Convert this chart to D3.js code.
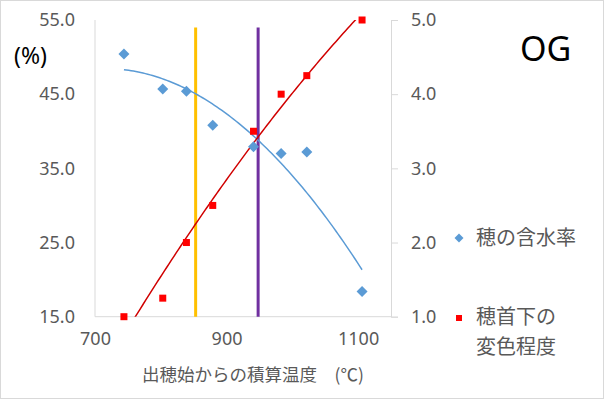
<!DOCTYPE html>
<html>
<head>
<meta charset="utf-8">
<script src="https://cdn.jsdelivr.net/npm/d3@7"></script>
<style>
  body { margin: 0; background: #fff; }
  text { font-family: "Noto Sans", "Noto Sans CJK JP", sans-serif; }
  .jp { font-family: "Noto Sans CJK JP", sans-serif; }
</style>
</head>
<body>
<div id="chart"></div>
<script>
const width = 604;
const height = 399;

// data
const temps = [744, 803, 839, 879, 941, 983, 1022, 1106];
const moisture = [50.4, 45.7, 45.4, 40.8, 37.9, 37.0, 37.2, 18.4];
const discolor = [1.0, 1.25, 2.0, 2.5, 3.5, 4.0, 4.25, 5.0];
const markerTemps = [853, 948];
const markerColors = ['#FFC000', '#7030A0'];
const leftTicks = [15, 25, 35, 45, 55];
const rightTicks = [1, 2, 3, 4, 5];
const xTicks = [700, 900, 1100];

const plot = { left: 95, right: 391, top: 20, bottom: 316.7 };

const svg = d3.select('#chart').append('svg')
  .attr('width', width)
  .attr('height', height);

svg.append('rect')
  .attr('x', 0.5).attr('y', 0.5)
  .attr('width', width - 1).attr('height', height - 1)
  .attr('fill', '#fff').attr('stroke', '#d9d9d9');

const x = d3.scaleLinear().domain([700, 1150]).range([plot.left, plot.right]);
const yL = d3.scaleLinear().domain([15, 55]).range([plot.bottom, plot.top]);
const yR = d3.scaleLinear().domain([1, 5]).range([plot.bottom, plot.top]);

svg.append('clipPath').attr('id', 'clip')
  .append('rect')
  .attr('x', plot.left).attr('y', plot.top)
  .attr('width', plot.right - plot.left).attr('height', plot.bottom - plot.top);

// axes lines
const axisColor = '#d9d9d9';
svg.append('line')
  .attr('x1', plot.left).attr('x2', plot.left)
  .attr('y1', plot.top).attr('y2', plot.bottom)
  .attr('stroke', axisColor);
svg.append('line')
  .attr('x1', plot.left).attr('x2', plot.right)
  .attr('y1', plot.bottom).attr('y2', plot.bottom)
  .attr('stroke', axisColor);

const rightAxis = d3.axisRight(yR).tickValues(rightTicks).tickSize(7).tickPadding(13)
  .tickFormat(d3.format('.1f'));
const gR = svg.append('g').attr('transform', `translate(${plot.right},0)`).call(rightAxis);
gR.select('.domain').attr('stroke', axisColor);
gR.selectAll('.tick line').attr('stroke', axisColor);
gR.selectAll('text').attr('fill', '#595959').style('font-size', '18px')
  .style('font-family', '"Noto Sans", sans-serif');

const leftAxis = d3.axisLeft(yL).tickValues(leftTicks).tickSize(0).tickPadding(20)
  .tickFormat(d3.format('.1f'));
const gL = svg.append('g').attr('transform', `translate(${plot.left},0)`).call(leftAxis);
gL.select('.domain').remove();
gL.selectAll('text').attr('fill', '#595959').style('font-size', '18px')
  .style('font-family', '"Noto Sans", sans-serif');

const bottomAxis = d3.axisBottom(x).tickValues(xTicks).tickSize(0).tickPadding(16)
  .tickFormat(d3.format('d'));
const gB = svg.append('g').attr('transform', `translate(0,${plot.bottom})`).call(bottomAxis);
gB.select('.domain').remove();
gB.selectAll('text').attr('fill', '#595959').style('font-size', '18px')
  .style('font-family', '"Noto Sans", sans-serif');

// vertical reference lines
svg.selectAll('.vline').data(markerTemps).enter().append('line')
  .attr('class', 'vline')
  .attr('x1', (d) => x(d)).attr('x2', (d) => x(d))
  .attr('y1', yL(54)).attr('y2', yL(15))
  .attr('stroke', (d, i) => markerColors[i])
  .attr('stroke-width', 3);

// quadratic least squares trend
const quadFit = (xs, ys) => {
  const n = xs.length;
  const mx = d3.mean(xs);
  const u = xs.map((v) => (v - mx) / 100);
  let s = [0, 0, 0, 0, 0], t = [0, 0, 0];
  for (let i = 0; i < n; i++) {
    for (let k = 0; k < 5; k++) s[k] += Math.pow(u[i], k);
    for (let k = 0; k < 3; k++) t[k] += ys[i] * Math.pow(u[i], k);
  }
  const A = [[s[0], s[1], s[2], t[0]], [s[1], s[2], s[3], t[1]], [s[2], s[3], s[4], t[2]]];
  for (let c = 0; c < 3; c++) {
    for (let r = c + 1; r < 3; r++) {
      const f = A[r][c] / A[c][c];
      for (let k = c; k < 4; k++) A[r][k] -= f * A[c][k];
    }
  }
  const b = [0, 0, 0];
  for (let r = 2; r >= 0; r--) {
    let v = A[r][3];
    for (let k = r + 1; k < 3; k++) v -= A[r][k] * b[k];
    b[r] = v / A[r][r];
  }
  return (xv) => {
    const uu = (xv - mx) / 100;
    return b[0] + b[1] * uu + b[2] * uu * uu;
  };
};

const samples = d3.range(0, 101).map((i) => d3.min(temps) + (d3.max(temps) - d3.min(temps)) * i / 100);

const blueFit = quadFit(temps, moisture);
const redFit = quadFit(temps, discolor);

const plotArea = svg.append('g').attr('clip-path', 'url(#clip)');

plotArea.append('path')
  .datum(samples)
  .attr('fill', 'none')
  .attr('stroke', '#5B9BD5')
  .attr('stroke-width', 1.5)
  .attr('d', d3.line().x((d) => x(d)).y((d) => yL(blueFit(d))));

plotArea.append('path')
  .datum(samples)
  .attr('fill', 'none')
  .attr('stroke', '#D00000')
  .attr('stroke-width', 1.5)
  .attr('d', d3.line().x((d) => x(d)).y((d) => yR(redFit(d))));

const diamond = (r) => `M0,${-r}L${r},0L0,${r}L${-r},0Z`;

svg.selectAll('.blue').data(temps).enter().append('path')
  .attr('class', 'blue')
  .attr('d', diamond(5.5))
  .attr('transform', (d, i) => `translate(${x(d)},${yL(moisture[i])})`)
  .attr('fill', '#5B9BD5');

svg.selectAll('.red').data(temps).enter().append('rect')
  .attr('class', 'red')
  .attr('x', (d) => x(d) - 3.5)
  .attr('y', (d, i) => yR(discolor[i]) - 3.5)
  .attr('width', 7).attr('height', 7)
  .attr('fill', '#FF0000');

// labels
svg.append('text')
  .attr('x', 14).attr('y', 64)
  .attr('font-size', 23)
  .style('font-size', '23px')
  .attr('fill', '#000')
  .text('(%)');

svg.append('text')
  .attr('x', 520).attr('y', 61)
  .style('font-size', '34px')
  .attr('fill', '#000')
  .text('OG');

svg.append('text')
  .attr('class', 'jp')
  .attr('x', 142).attr('y', 381)
  .style('font-size', '17.5px')
  .attr('fill', '#595959')
  .text('出穂始からの積算温度　(℃)');

// legend
const legend = svg.append('g');
legend.append('path')
  .attr('d', diamond(4.5))
  .attr('transform', 'translate(459,238)')
  .attr('fill', '#5B9BD5');
legend.append('text')
  .attr('class', 'jp')
  .attr('x', 476).attr('y', 245)
  .style('font-size', '20px')
  .attr('fill', '#595959')
  .text('穂の含水率');

legend.append('rect')
  .attr('x', 456).attr('y', 315)
  .attr('width', 6).attr('height', 6)
  .attr('fill', '#FF0000');
const t2 = legend.append('text')
  .attr('class', 'jp')
  .style('font-size', '20px')
  .attr('fill', '#595959');
t2.append('tspan').attr('x', 476).attr('y', 324).text('穂首下の');
t2.append('tspan').attr('x', 476).attr('y', 354).text('変色程度');
</script>
</body>
</html>
